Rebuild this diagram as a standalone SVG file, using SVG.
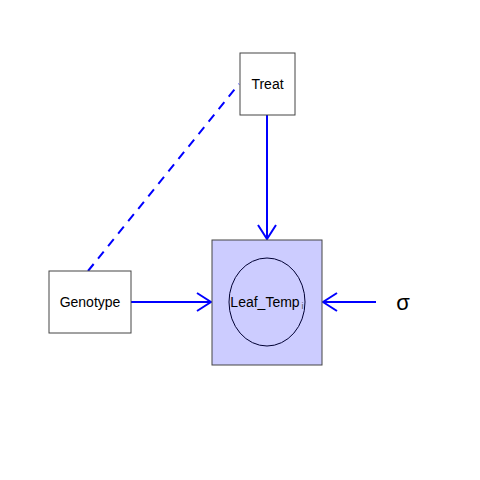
<svg xmlns="http://www.w3.org/2000/svg" width="480" height="480" viewBox="0 0 480 480">
<style>
.box{fill:#fff;stroke:#444;stroke-width:1}
.lbl{font-family:"Liberation Sans",Arial,sans-serif;font-size:14px;fill:#000;text-anchor:middle;dominant-baseline:central}
.e{stroke:#00f;stroke-width:2;fill:none}
</style>
<defs>
<marker id="ah" viewBox="0 0 16 20" refX="15" refY="10" markerWidth="16" markerHeight="20" markerUnits="userSpaceOnUse" orient="auto">
<path d="M1,1 L15,10 L1,19" fill="none" stroke="#00f" stroke-width="2"/>
</marker>
</defs>
<rect width="480" height="480" fill="#fff"/>
<g id="connectors">
<line class="e" x1="88" y1="271" x2="239" y2="84" stroke-dasharray="9,7"/>
<line class="e" x1="267" y1="115" x2="267" y2="239" marker-end="url(#ah)"/>
<line class="e" x1="131" y1="302" x2="211" y2="302" marker-end="url(#ah)"/>
<line class="e" x1="376" y1="302" x2="323" y2="302" marker-end="url(#ah)"/>
</g>
<g id="Treat">
<rect class="box" x="240" y="53" width="55" height="62"/>
<text class="lbl" x="267.5" y="84">Treat</text>
</g>
<g id="Genotype">
<rect class="box" x="49" y="271" width="82" height="62"/>
<text class="lbl" x="90" y="302">Genotype</text>
</g>
<g id="Leaf_Temp">
<rect x="212" y="240" width="110" height="125" fill="#ccccff" stroke="#444" stroke-width="1"/>
<ellipse cx="267" cy="302" rx="38" ry="44" fill="none" stroke="#000033" stroke-width="1"/>
<text class="lbl" x="265" y="302">Leaf_Temp</text>
<text x="301.5" y="309" style="font-family:'Liberation Sans',Arial,sans-serif;font-size:9px;fill:#555">i</text>
</g>
<g id="sigma">
<text class="lbl" x="403" y="302" style="font-size:22px">σ</text>
</g>
</svg>
